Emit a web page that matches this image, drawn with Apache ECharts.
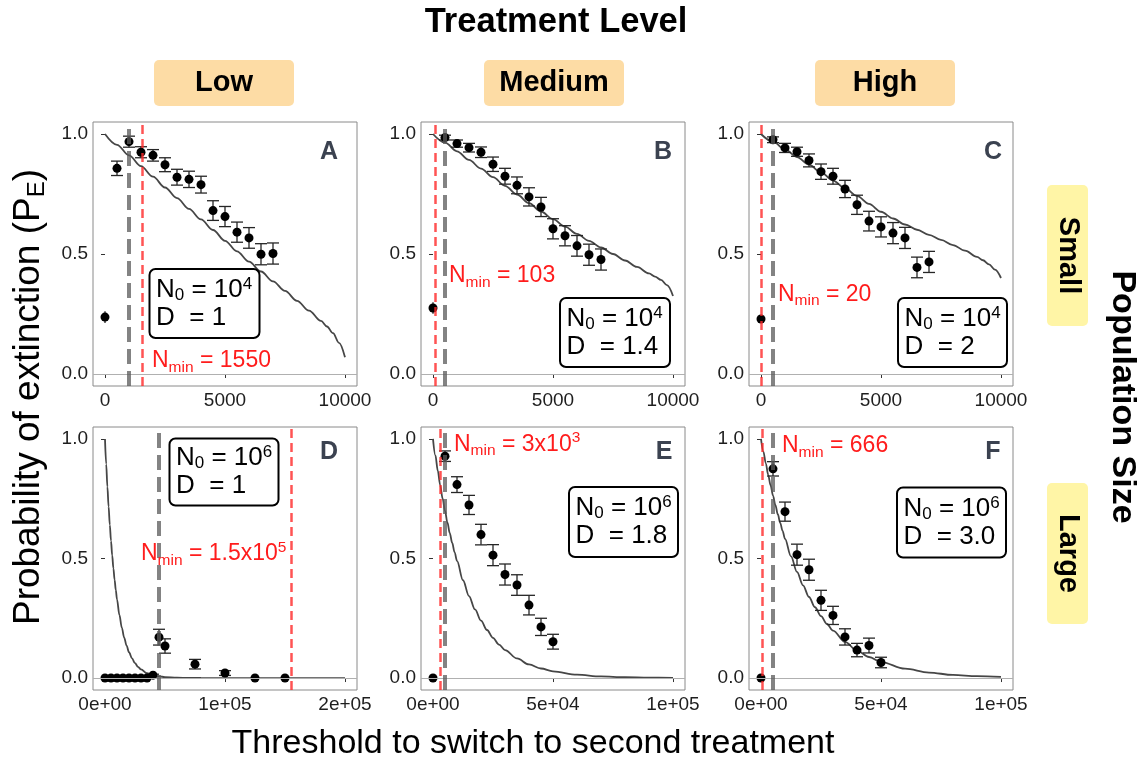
<!DOCTYPE html>
<html><head><meta charset="utf-8">
<script src="https://cdn.jsdelivr.net/npm/echarts@6/dist/echarts.min.js"></script>
<style>html,body{margin:0;padding:0;background:#fff}#main{width:1145px;height:762px}</style>
</head><body><div id="main"></div>
<script>
// ---------------- DATA ----------------
const panelLetters = ['A', 'B', 'C', 'D', 'E', 'F'];
const treatmentLevels = ['Low', 'Medium', 'High'];
const populationSizes = ['Small', 'Large'];

// simulated points (small population, panels A-C)
const thresholdsSmallPop = [0, 500, 1000, 1500, 2000, 2500, 3000, 3500, 4000, 4500, 5000, 5500, 6000, 6500, 7000];
const probA = [0.237, 0.857, 0.968, 0.924, 0.911, 0.872, 0.820, 0.811, 0.789, 0.681, 0.656, 0.591, 0.567, 0.499, 0.502];
const errA  = [0.024, 0.030, 0.023, 0.023, 0.024, 0.029, 0.033, 0.034, 0.035, 0.041, 0.042, 0.042, 0.043, 0.044, 0.044];
const probB = [0.275, 0.985, 0.960, 0.943, 0.924, 0.874, 0.824, 0.786, 0.738, 0.696, 0.605, 0.576, 0.534, 0.497, 0.477];
const errB  = [0.024, 0.010, 0.015, 0.018, 0.022, 0.030, 0.033, 0.035, 0.038, 0.040, 0.042, 0.042, 0.043, 0.044, 0.044];
const probC = [0.229, 0.976, 0.942, 0.926, 0.890, 0.843, 0.824, 0.771, 0.705, 0.637, 0.613, 0.587, 0.567, 0.444, 0.467];
const errC  = [0.014, 0.012, 0.019, 0.019, 0.027, 0.032, 0.033, 0.036, 0.040, 0.041, 0.042, 0.044, 0.044, 0.043, 0.044];

// simulated points (large population, panels D-F)
const thresholdsD = [0, 5000, 10000, 15000, 20000, 25000, 30000, 35000, 40000, 45000, 50000, 75000, 100000, 125000, 150000];
const probD = [0, 0, 0, 0, 0, 0, 0, 0, 0.012, 0.171, 0.134, 0.058, 0.021, 0, 0];
const errD  = [0, 0, 0, 0, 0, 0, 0, 0, 0.004, 0.033, 0.030, 0.020, 0.010, 0, 0];
const thresholdsLargePop = [0, 5000, 10000, 15000, 20000, 25000, 30000, 35000, 40000, 45000, 50000];
const probE = [0.0, 0.928, 0.809, 0.724, 0.600, 0.514, 0.433, 0.389, 0.305, 0.214, 0.152];
const errE  = [0, 0.022, 0.033, 0.040, 0.043, 0.044, 0.044, 0.043, 0.041, 0.036, 0.031];
const probF = [0.0, 0.875, 0.696, 0.516, 0.453, 0.325, 0.262, 0.172, 0.117, 0.136, 0.065];
const errF  = [0, 0.030, 0.040, 0.044, 0.044, 0.042, 0.038, 0.034, 0.028, 0.031, 0.022];

// theoretical curves
const curveXSmallPop = [0, 500, 1000, 1500, 2000, 2500, 3000, 3500, 4000, 4500, 5000, 5500, 6000, 6500, 7000, 7500, 8000, 8500, 9000, 9250, 9500, 9750, 10000];
const curveA = [1.0, 0.955, 0.911, 0.866, 0.822, 0.777, 0.733, 0.688, 0.644, 0.600, 0.555, 0.511, 0.468, 0.427, 0.386, 0.346, 0.305, 0.264, 0.221, 0.198, 0.170, 0.130, 0.070];
const curveB = [1.0, 0.964, 0.928, 0.892, 0.856, 0.820, 0.784, 0.748, 0.712, 0.677, 0.645, 0.614, 0.584, 0.555, 0.527, 0.500, 0.473, 0.446, 0.419, 0.406, 0.392, 0.370, 0.325];
const curveC = [1.0, 0.968, 0.936, 0.904, 0.872, 0.840, 0.806, 0.774, 0.742, 0.709, 0.676, 0.648, 0.623, 0.601, 0.580, 0.559, 0.537, 0.514, 0.488, 0.474, 0.457, 0.435, 0.400];
const curveXD = [0, 1000, 2000, 3000, 4000, 5000, 6000, 7000, 8000, 9000, 10000, 12000, 14000, 16000, 18000, 20000, 22500, 25000, 27500, 30000, 35000, 40000, 45000, 50000, 60000, 70000, 80000, 100000, 150000, 200000];
const curveD = [1.0, 0.895, 0.800, 0.717, 0.641, 0.574, 0.513, 0.459, 0.411, 0.368, 0.329, 0.264, 0.211, 0.169, 0.135, 0.108, 0.082, 0.062, 0.047, 0.036, 0.020, 0.012, 0.0068, 0.004, 0.0013, 0.0004, 0.0001, 0, 0, 0];
const curveXLargePop = [0, 1000, 2000, 3000, 4000, 5000, 6000, 7000, 8000, 9000, 10000, 12500, 15000, 17500, 20000, 22500, 25000, 27500, 30000, 35000, 40000, 45000, 50000, 60000, 70000, 80000, 90000, 100000];
const curveE = [1.0, 0.931, 0.867, 0.807, 0.751, 0.700, 0.651, 0.606, 0.565, 0.526, 0.490, 0.409, 0.343, 0.287, 0.240, 0.201, 0.168, 0.140, 0.117, 0.082, 0.057, 0.040, 0.028, 0.014, 0.0067, 0.0033, 0.0016, 0.0008];
const curveF = [1.0, 0.947, 0.898, 0.850, 0.806, 0.763, 0.723, 0.685, 0.649, 0.615, 0.582, 0.509, 0.444, 0.388, 0.339, 0.296, 0.259, 0.226, 0.198, 0.151, 0.115, 0.088, 0.067, 0.039, 0.023, 0.013, 0.0077, 0.0045];

// reference lines
const grayLineX = [1000, 500, 500, 45000, 5000, 5000];
const nminX     = [1550, 103, 20, 155000, 3000, 666];

// box texts
const n0Exponent = ['4', '4', '4', '6', '6', '6'];
const dValues = ['1', '1.4', '2', '1', '1.8', '3.0'];
const nminLabels = ['1550', '103', '20', '1.5x10|5', '3x10|3', '666'];

// axis ticks
const yTicks = [0, 0.5, 1];
const yTickLabels = ['0.0', '0.5', '1.0'];
const xTicksSmallPop = [0, 5000, 10000];
const xTickLabelsSmallPop = ['0', '5000', '10000'];
const xTicksD = [0, 100000, 200000];
const xTickLabelsD = ['0e+00', '1e+05', '2e+05'];
const xTicksLargePop = [0, 50000, 100000];
const xTickLabelsLargePop = ['0e+00', '5e+04', '1e+05'];

// ---------------- BUILD ----------------
const FONT = "'Liberation Sans', Arial, Helvetica, sans-serif";
const panels = [
  {px: thresholdsSmallPop, py: probA, pe: errA, cx: curveXSmallPop, cy: curveA, xr: [-500, 10500], xt: xTicksSmallPop, xl: xTickLabelsSmallPop},
  {px: thresholdsSmallPop, py: probB, pe: errB, cx: curveXSmallPop, cy: curveB, xr: [-500, 10500], xt: xTicksSmallPop, xl: xTickLabelsSmallPop},
  {px: thresholdsSmallPop, py: probC, pe: errC, cx: curveXSmallPop, cy: curveC, xr: [-500, 10500], xt: xTicksSmallPop, xl: xTickLabelsSmallPop},
  {px: thresholdsD, py: probD, pe: errD, cx: curveXD, cy: curveD, xr: [-10000, 210000], xt: xTicksD, xl: xTickLabelsD},
  {px: thresholdsLargePop, py: probE, pe: errE, cx: curveXLargePop, cy: curveE, xr: [-5000, 105000], xt: xTicksLargePop, xl: xTickLabelsLargePop},
  {px: thresholdsLargePop, py: probF, pe: errF, cx: curveXLargePop, cy: curveF, xr: [-5000, 105000], xt: xTicksLargePop, xl: xTickLabelsLargePop}
];

const colLeft = [93, 421, 749];
const rowTop = [122, 427];
const PW = 264, PH = 264;

const grids = [], xAxes = [], yAxes = [], series = [];

function renderErr(params, api) {
  const x = api.value(0), y = api.value(1), e = api.value(2);
  if (!(e > 0)) return null;
  const top = api.coord([x, y + e]);
  const bot = api.coord([x, y - e]);
  const st = {stroke: '#262626', lineWidth: 1.3};
  const children = [{type: 'line', shape: {x1: top[0], y1: top[1], x2: bot[0], y2: bot[1]}, style: st}];
  if (x > 0) {
    const hw = 6;
    children.push({type: 'line', shape: {x1: top[0] - hw, y1: top[1], x2: top[0] + hw, y2: top[1]}, style: st});
    children.push({type: 'line', shape: {x1: bot[0] - hw, y1: bot[1], x2: bot[0] + hw, y2: bot[1]}, style: st});
  }
  return {type: 'group', children: children};
}

panels.forEach((p, i) => {
  const col = i % 3, row = Math.floor(i / 3);
  grids.push({left: colLeft[col], top: rowTop[row], width: PW, height: PH - row, show: true,
    borderColor: '#8a8a8a', borderWidth: 1, backgroundColor: '#fff', containLabel: false});
  xAxes.push({gridIndex: i, type: 'value', min: p.xr[0], max: p.xr[1],
    axisLine: {show: false}, splitLine: {show: false},
    axisTick: {show: true, customValues: p.xt, length: 4, lineStyle: {color: '#333'}},
    axisLabel: {customValues: p.xt, margin: 5, fontSize: 19, color: '#1e1e1e', fontFamily: FONT,
      formatter: (v) => { const k = p.xt.indexOf(v); return k >= 0 ? p.xl[k] : ''; }}});
  yAxes.push({gridIndex: i, type: 'value', min: -0.05, max: 1.05,
    axisLine: {show: false}, splitLine: {show: false},
    axisTick: {show: true, customValues: yTicks, length: 4, lineStyle: {color: '#333'}},
    axisLabel: {customValues: yTicks, margin: 5, fontSize: 19, color: '#1e1e1e', fontFamily: FONT,
      formatter: (v) => { const k = yTicks.indexOf(v); return k >= 0 ? yTickLabels[k] : ''; }}});

  // zero line
  series.push({type: 'line', xAxisIndex: i, yAxisIndex: i, data: [], z: 1, silent: true,
    markLine: {silent: true, symbol: 'none', label: {show: false}, animation: false,
      lineStyle: {color: '#b0b0b0', width: 1.2, type: 'solid'}, data: [{yAxis: 0}]}});
  // theoretical curve
  series.push({type: 'line', xAxisIndex: i, yAxisIndex: i, z: 2, showSymbol: false, symbol: 'none',
    smooth: 0.35, smoothMonotone: 'x',
    lineStyle: {color: '#464646', width: 1.8},
    data: p.cx.map((x, k) => [x, p.cy[k]])});
  // error bars
  series.push({type: 'custom', xAxisIndex: i, yAxisIndex: i, z: 3, renderItem: renderErr,
    encode: {x: 0, y: 1},
    data: p.px.map((x, k) => [x, p.py[k], p.pe[k]])});
  // points
  series.push({type: 'scatter', xAxisIndex: i, yAxisIndex: i, z: 4, symbolSize: 9,
    itemStyle: {color: '#000', opacity: 1},
    data: p.px.map((x, k) => [x, p.py[k]])});
  // vertical reference lines
  series.push({type: 'line', xAxisIndex: i, yAxisIndex: i, data: [], z: 5, silent: true,
    markLine: {silent: true, symbol: 'none', label: {show: false}, animation: false,
      data: [
        {xAxis: grayLineX[i], lineStyle: {color: 'rgba(90,90,90,0.75)', width: 4, type: [15, 7]}},
        {xAxis: nminX[i], lineStyle: {color: 'rgba(255,40,40,0.8)', width: 2.5, type: [9, 5]}}
      ]}});
});

// ---------------- ANNOTATIONS ----------------
const graphic = [];
const RED = '#ff1c1c';
// titles
graphic.push({type: 'text', x: 556, y: 22, style: {text: 'Treatment Level', font: 'bold 34.5px ' + FONT, fill: '#000', align: 'center', verticalAlign: 'middle', textAlign: 'center', textVerticalAlign: 'middle'}});
graphic.push({type: 'text', x: 1122, y: 397, rotation: -Math.PI / 2, style: {text: 'Population Size', font: 'bold 34px ' + FONT, fill: '#000', align: 'center', verticalAlign: 'middle', textAlign: 'center', textVerticalAlign: 'middle'}});
graphic.push({type: 'text', x: 533, y: 744, style: {text: 'Threshold to switch to second treatment', font: '34px ' + FONT, fill: '#000', align: 'center', verticalAlign: 'middle', textAlign: 'center', textVerticalAlign: 'middle'}});
graphic.push({type: 'text', x: 29, y: 397, rotation: Math.PI / 2, style: {
  text: '{t|Probability of extinction (P}{s|E}{t|)}', align: 'center', verticalAlign: 'middle', textAlign: 'center', textVerticalAlign: 'middle',
  rich: {t: {fontSize: 37, fontFamily: FONT, fill: '#000', color: '#000', lineHeight: 40},
         s: {fontSize: 24, fontFamily: FONT, fill: '#000', color: '#000', lineHeight: 24, verticalAlign: 'bottom'}}}});

// column strips
const headerLeft = [154, 484, 815];
treatmentLevels.forEach((t, k) => {
  graphic.push({type: 'rect', shape: {x: headerLeft[k], y: 60, width: 140, height: 46, r: 5}, style: {fill: '#fddca5'}});
  graphic.push({type: 'text', x: headerLeft[k] + 70, y: 83, style: {text: t, font: 'bold 29px ' + FONT, fill: '#000', align: 'center', verticalAlign: 'middle', textAlign: 'center', textVerticalAlign: 'middle'}});
});
// row strips
const stripTop = [185, 483];
populationSizes.forEach((t, k) => {
  graphic.push({type: 'rect', shape: {x: 1047, y: stripTop[k], width: 41, height: 141, r: 5}, style: {fill: '#fff5a6'}});
  graphic.push({type: 'text', x: 1067.5, y: stripTop[k] + 70.5, rotation: -Math.PI / 2, style: {text: t, font: 'bold 29px ' + FONT, fill: '#000', align: 'center', verticalAlign: 'middle', textAlign: 'center', textVerticalAlign: 'middle'}});
});

// panel letters
const letterPos = [[329, 152], [663, 152], [993, 152], [329, 452], [664, 452], [993, 452]];
panelLetters.forEach((l, k) => {
  graphic.push({type: 'text', x: letterPos[k][0], y: letterPos[k][1], style: {text: l, font: 'bold 25px ' + FONT, fill: '#3b4250', align: 'center', verticalAlign: 'middle', textAlign: 'center', textVerticalAlign: 'middle'}});
});

// info boxes
const boxPos = [[149.5, 269, 110, 69], [560, 298, 110, 69], [898, 298, 109, 69], [169.5, 438.5, 109, 67], [569, 487, 109, 70], [897, 487.5, 109, 70]];
const boxRich = {
  m: {fontSize: 26, fontFamily: FONT, color: '#000', fill: '#000', lineHeight: 28},
  sb: {fontSize: 17, fontFamily: FONT, color: '#000', fill: '#000', lineHeight: 17, verticalAlign: 'bottom'},
  sp: {fontSize: 17, fontFamily: FONT, color: '#000', fill: '#000', lineHeight: 12, verticalAlign: 'top'}
};
boxPos.forEach((b, k) => {
  graphic.push({type: 'rect', z: 100, shape: {x: b[0], y: b[1], width: b[2], height: b[3], r: 6}, style: {fill: '#fff', stroke: '#000', lineWidth: 2}});
  graphic.push({type: 'text', z: 101, x: b[0] + 6.5, y: b[1] + (b[3] - 56) / 2, style: {
    text: '{m|N}{sb|0}{m| = 10}{sp|' + n0Exponent[k] + '}\n{m|D  = ' + dValues[k] + '}',
    align: 'left', verticalAlign: 'top', textAlign: 'left', textVerticalAlign: 'top', rich: boxRich}});
});

// Nmin labels
const nminPos = [[152, 361], [449, 276], [778, 294.5], [141, 554], [454, 444.5], [782, 446]];
const redRich = {
  r: {fontSize: 23, fontFamily: FONT, color: RED, fill: RED, lineHeight: 29},
  rs: {fontSize: 15.5, fontFamily: FONT, color: RED, fill: RED, lineHeight: 15.5, verticalAlign: 'bottom'},
  rp: {fontSize: 15.5, fontFamily: FONT, color: RED, fill: RED, lineHeight: 10, verticalAlign: 'top'}
};
nminLabels.forEach((lab, k) => {
  const parts = lab.split('|');
  let txt = '{r|N}{rs|min}{r| = ' + parts[0] + '}';
  if (parts.length > 1) txt += '{rp|' + parts[1] + '}';
  graphic.push({type: 'text', z: 102, x: nminPos[k][0], y: nminPos[k][1], style: {
    text: txt, align: 'left', verticalAlign: 'middle', textAlign: 'left', textVerticalAlign: 'middle', rich: redRich}});
});

const chart = echarts.init(document.getElementById('main'), null, {renderer: 'canvas'});
chart.setOption({
  animation: false,
  backgroundColor: '#fff',
  textStyle: {fontFamily: FONT},
  grid: grids, xAxis: xAxes, yAxis: yAxes, series: series, graphic: graphic
});
</script>
</body></html>
